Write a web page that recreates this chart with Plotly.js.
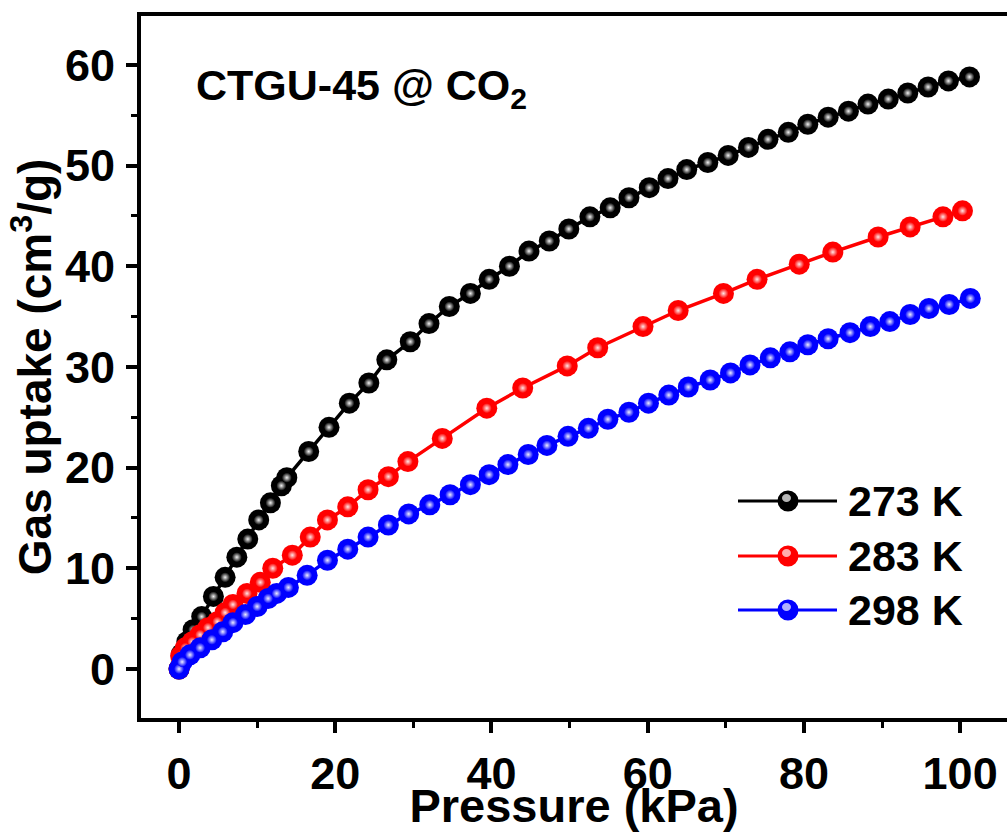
<!DOCTYPE html>
<html>
<head>
<meta charset="utf-8">
<script src="https://cdn.plot.ly/plotly-3.0.1.min.js"></script>
<style>
  html, body { margin: 0; padding: 0; background: #fff; }
  #chart { width: 1007px; height: 832px; }
</style>
</head>
<body>
<div id="chart"></div>
<script>
// ---- Data ----
const seriesNames = ['273 K', '283 K', '298 K'];
const seriesColors = ['#000000', '#ff0000', '#0000ff'];
const highlightColors = ['#f2f2f2', '#ffe6e6', '#ececff'];

const p273 = [0, 0.3, 1.0, 1.8, 2.9, 4.4, 5.9, 7.4, 8.8, 10.2, 11.7, 13.1, 13.8, 16.6, 19.2, 21.8, 24.3, 26.6, 29.6, 32.0, 34.6, 37.3, 39.7, 42.3, 44.8, 47.4, 49.9, 52.6, 55.2, 57.6, 60.2, 62.6, 65.0, 67.7, 70.3, 72.9, 75.4, 78.0, 80.5, 83.1, 85.7, 88.2, 90.8, 93.3, 95.9, 98.5, 101.2];
const u273 = [0, 1.5, 2.7, 3.9, 5.2, 7.2, 9.1, 11.1, 12.9, 14.8, 16.5, 18.2, 19.0, 21.6, 24.0, 26.4, 28.4, 30.7, 32.5, 34.3, 36.0, 37.3, 38.7, 40.0, 41.5, 42.5, 43.7, 44.9, 45.8, 46.8, 47.8, 48.7, 49.6, 50.3, 51.0, 51.8, 52.6, 53.3, 54.1, 54.8, 55.4, 56.1, 56.6, 57.2, 57.8, 58.4, 58.8];

const p283 = [0, 0.2, 0.8, 1.7, 2.7, 3.7, 4.9, 5.9, 6.9, 8.7, 10.4, 12.0, 14.5, 16.8, 19.0, 21.6, 24.2, 26.8, 29.3, 33.7, 39.4, 44.0, 49.7, 53.6, 59.4, 63.9, 69.7, 74.0, 79.4, 83.7, 89.5, 93.6, 97.8, 100.3];
const u283 = [0, 1.3, 2.1, 2.7, 3.4, 4.1, 4.7, 5.6, 6.4, 7.5, 8.6, 10.0, 11.3, 13.1, 14.8, 16.1, 17.8, 19.1, 20.6, 22.9, 25.9, 27.9, 30.1, 31.9, 34.0, 35.6, 37.3, 38.7, 40.2, 41.4, 42.9, 43.9, 44.9, 45.5];

const p298 = [0, 0.4, 1.4, 2.7, 4.2, 5.6, 6.9, 8.5, 10.0, 11.4, 12.5, 14.0, 16.4, 19.0, 21.6, 24.2, 26.8, 29.4, 32.1, 34.7, 37.3, 39.7, 42.1, 44.7, 47.1, 49.8, 52.4, 54.9, 57.6, 60.1, 62.7, 65.2, 68.0, 70.6, 73.1, 75.7, 78.2, 80.5, 83.1, 85.9, 88.5, 91.0, 93.6, 96.0, 98.6, 101.3];
const u298 = [0, 0.7, 1.4, 2.1, 2.9, 3.7, 4.6, 5.4, 6.2, 7.0, 7.5, 8.1, 9.3, 10.8, 11.9, 13.1, 14.3, 15.4, 16.3, 17.3, 18.3, 19.3, 20.3, 21.3, 22.2, 23.1, 23.9, 24.8, 25.5, 26.4, 27.2, 28.0, 28.7, 29.4, 30.2, 30.9, 31.5, 32.2, 32.8, 33.4, 34.0, 34.5, 35.2, 35.8, 36.2, 36.8];

const xTicks = [0, 20, 40, 60, 80, 100];
const yTicks = [0, 10, 20, 30, 40, 50, 60];

const chartTitle = 'CTGU-45 @ CO<sub>2</sub>';
const xTitle = 'Pressure (kPa)';
const yTitle = 'Gas uptake (cm<sup>3</sup>/g)';

// ---- Build traces ----
const xs = [p273, p283, p298];
const ys = [u273, u283, u298];
const traces = [];
for (let i = 0; i < 3; i++) {
  traces.push({
    x: xs[i], y: ys[i], name: seriesNames[i], type: 'scatter', mode: 'lines+markers',
    line: { color: seriesColors[i], width: 3.5 },
    marker: { color: seriesColors[i], size: 21, line: { width: 0 } },
    showlegend: false, hoverinfo: 'x+y+name'
  });
  traces.push({
    x: xs[i], y: ys[i], name: seriesNames[i], type: 'scatter', mode: 'markers',
    marker: { color: seriesColors[i], size: 10, line: { width: 0 },
              gradient: { type: 'radial', color: highlightColors[i] } },
    showlegend: false, hoverinfo: 'skip'
  });
}

// ---- Layout geometry ----
const W = 1007, H = 832;
const M = { l: 141, r: 0, t: 16, b: 114 };
const PW = W - M.l - M.r, PH = H - M.t - M.b;
const px = v => (v - M.l) / PW;           // pixel x -> paper
const py = v => (H - M.b - v) / PH;       // pixel y -> paper

const FONT = 'Liberation Sans, Arial, Helvetica, sans-serif';

// Manual legend (long line samples like the reference)
const legendRows = [501, 556, 610];
const shapes = [];
const annotations = [{
  text: chartTitle, xref: 'paper', yref: 'paper', x: px(194), y: py(88),
  xanchor: 'left', yanchor: 'middle', showarrow: false,
  font: { family: FONT, size: 43, weight: 700, color: '#000' }
}];
for (let i = 0; i < 3; i++) {
  const yy = py(legendRows[i]);
  shapes.push({ type: 'line', xref: 'paper', yref: 'paper', x0: px(738), x1: px(837), y0: yy, y1: yy,
    line: { color: seriesColors[i], width: 3 }, layer: 'above' });
  shapes.push({ type: 'circle', xref: 'paper', yref: 'paper', xsizemode: 'pixel', ysizemode: 'pixel',
    xanchor: px(788), yanchor: yy, x0: -10.5, x1: 10.5, y0: -10.5, y1: 10.5,
    fillcolor: seriesColors[i], line: { width: 0 }, layer: 'above' });
  shapes.push({ type: 'circle', xref: 'paper', yref: 'paper', xsizemode: 'pixel', ysizemode: 'pixel',
    xanchor: px(788), yanchor: yy, x0: -6, x1: 3, y0: -1, y1: 7,
    fillcolor: highlightColors[i], opacity: 0.75, line: { width: 0 }, layer: 'above' });
  annotations.push({
    text: seriesNames[i], xref: 'paper', yref: 'paper', x: px(846), y: yy,
    xanchor: 'left', yanchor: 'middle', showarrow: false,
    font: { family: FONT, size: 43, weight: 700, color: '#000' }
  });
}

const axisCommon = {
  showgrid: false, zeroline: false, showline: true, linecolor: '#000', linewidth: 4,
  ticks: 'outside', ticklen: 11, tickwidth: 4, tickcolor: '#000',
  tickfont: { family: FONT, size: 45, weight: 700, color: '#000' }
};

const layout = {
  width: W, height: H, margin: M,
  paper_bgcolor: '#fff', plot_bgcolor: '#fff',
  showlegend: false,
  font: { family: FONT, color: '#000' },
  xaxis: Object.assign({}, axisCommon, {
    range: [-4.87, 106.0], tickmode: 'array', tickvals: xTicks, ticktext: xTicks.map(String),
    minor: { ticks: 'outside', ticklen: 6, tickwidth: 3, tickcolor: '#000', dtick: 10 },
    mirror: true, ticklabelstandoff: 2,
    title: { text: xTitle, font: { family: FONT, size: 47, weight: 700, color: '#000' }, standoff: 0 }
  }),
  yaxis: Object.assign({}, axisCommon, {
    range: [-4.87, 64.85], tickmode: 'array', tickvals: yTicks, ticktext: yTicks.map(String),
    minor: { ticks: 'outside', ticklen: 6, tickwidth: 3, tickcolor: '#000', dtick: 5 },
    ticklabelstandoff: 2,
    title: { text: yTitle, font: { family: FONT, size: 46, weight: 700, color: '#000' }, standoff: 0 }
  }),
  shapes: shapes,
  annotations: annotations
};

Plotly.newPlot('chart', traces, layout, { displayModeBar: false, staticPlot: true });
</script>
</body>
</html>
